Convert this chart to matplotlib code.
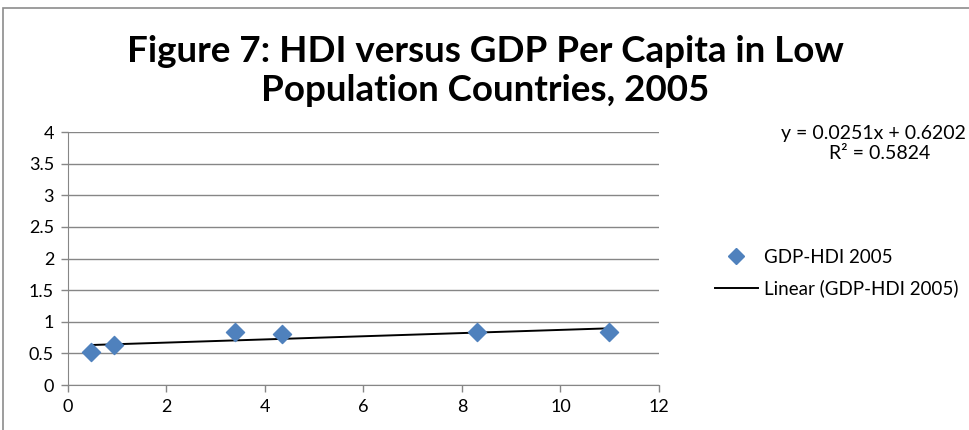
import matplotlib.pyplot as plt
from matplotlib.lines import Line2D
from matplotlib.patches import Rectangle

# GDP per capita (x) against HDI (y), 2005
gdp = [0.47, 0.94, 3.39, 4.35, 8.30, 10.99]
hdi = [0.516, 0.637, 0.837, 0.80, 0.837, 0.837]

# Linear trendline as reported
slope = 0.0251
intercept = 0.6202
r_squared = 0.5824

plt.rcParams['font.family'] = ['Lato', 'DejaVu Sans']

fig = plt.figure(figsize=(9.7, 4.3), dpi=100)
ax = fig.add_axes([68 / 970, 1 - 385 / 430, (659 - 68) / 970, (385 - 132) / 430])

# outer chart frame
fig.patches.append(Rectangle((3 / 970, -0.05), 1.1, 1 - 8 / 430 + 0.05,
                             transform=fig.transFigure, fill=False,
                             edgecolor='#8c8c8c', linewidth=1.2))

ax.scatter(gdp, hdi, marker='D', s=85, color='#4f81bd', zorder=3,
           label='GDP-HDI 2005')

x_line = [min(gdp), max(gdp)]
y_line = [slope * x + intercept for x in x_line]
ax.plot(x_line, y_line, color='black', linewidth=1.4, zorder=2,
        label='Linear (GDP-HDI 2005)')

ax.set_xlim(0, 12)
ax.set_ylim(0, 4)
ax.set_xticks(range(0, 13, 2))
ax.set_yticks([0, 0.5, 1, 1.5, 2, 2.5, 3, 3.5, 4])
ax.set_yticklabels(['0', '0.5', '1', '1.5', '2', '2.5', '3', '3.5', '4'])
ax.grid(axis='y', color='#868686', linewidth=1)
ax.set_axisbelow(True)
for side in ['top', 'right']:
    ax.spines[side].set_visible(False)
for side in ['left', 'bottom']:
    ax.spines[side].set_color('#868686')
ax.tick_params(colors='#868686', labelcolor='black', labelsize=13,
               length=5, width=1, pad=5)

fig.text(0.5, 1 - 71 / 430,
         'Figure 7: HDI versus GDP Per Capita in Low\nPopulation Countries, 2005',
         ha='center', va='center', fontsize=26.5, fontweight='bold',
         linespacing=1.2)

# trendline equation, top right
fig.text(966 / 970, 1 - 134 / 430, f'y = {slope}x + {intercept}',
         fontsize=14, va='center', ha='right')
fig.text(880 / 970, 1 - 154 / 430, f'R² = {r_squared}',
         fontsize=14, va='center', ha='center')

handles = [
    Line2D([], [], marker='D', linestyle='none', color='#4f81bd', markersize=8),
    Line2D([], [], color='black', linewidth=1.4),
]
fig.legend(handles, ['GDP-HDI 2005', 'Linear (GDP-HDI 2005)'],
           loc='center left', bbox_to_anchor=(698 / 970, 1 - 273 / 430),
           frameon=False, fontsize=13.5, handlelength=2.3, handletextpad=0.3,
           labelspacing=0.75)

fig.savefig('out.png', dpi=100)
